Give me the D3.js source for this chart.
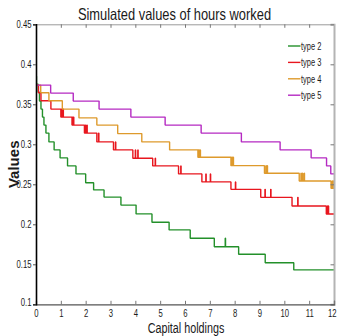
<!DOCTYPE html>
<html>
<head>
<meta charset="utf-8">
<script src="https://cdn.jsdelivr.net/npm/d3@7"></script>
<style>
  html, body { margin: 0; padding: 0; background: #fff; }
  svg { display: block; }
  text { font-family: "Liberation Sans", Arial, sans-serif; fill: #1a1a1a; }
</style>
</head>
<body>
<svg id="chart" width="337" height="336"></svg>
<script>
// Axis ticks
const xTicks = [0, 1, 2, 3, 4, 5, 6, 7, 8, 9, 10, 11, 12];
const yTicks = [0.1, 0.15, 0.2, 0.25, 0.3, 0.35, 0.4, 0.45];

// Series names and colours
const seriesNames = ["type 2", "type 3", "type 4", "type 5"];
const seriesColors = ["#23902a", "#e8161e", "#de9a2c", "#b52ac2"];

// Step series: levels (hours worked), break points (capital) where the level drops,
// and spike points where the simulated value briefly returns to the previous level.
const type2Levels = [0.385, 0.375, 0.365, 0.354, 0.344, 0.334, 0.324, 0.314, 0.303, 0.293, 0.283, 0.273, 0.263,
                     0.252, 0.243, 0.234, 0.224, 0.213, 0.2025, 0.193, 0.1825, 0.172, 0.1625, 0.152, 0.143];
const type2Breaks = [0.02, 0.09, 0.14, 0.2, 0.26, 0.32, 0.4, 0.52, 0.73, 0.97, 1.27, 1.61, 2.0,
                     2.32, 2.74, 3.42, 4.03, 4.67, 5.36, 6.21, 7.18, 8.16, 9.23, 10.38];
const type2Spikes = [7.62];

const type3Levels = [0.374, 0.3645, 0.3545, 0.344, 0.334, 0.324, 0.314, 0.303, 0.293, 0.2825, 0.273,
                     0.263, 0.253, 0.2437, 0.2337, 0.2229, 0.2129];
const type3Breaks = [0.1, 0.2, 0.6, 1.0, 1.45, 1.95, 2.45, 3.12, 3.9, 4.7, 5.74, 6.68, 7.85, 9.05, 10.31, 11.69];
const type3Spikes = [1.03, 1.06, 1.09, 1.48, 1.51, 1.99, 2.05, 2.52, 3.2, 4.0, 4.1, 4.8, 5.83,
                     6.84, 7.02, 8.03, 9.22, 9.45, 10.54, 11.74, 11.77];

const type4Levels = [0.374, 0.3645, 0.3545, 0.344, 0.333, 0.324, 0.3134, 0.303, 0.293, 0.2838, 0.2733,
                     0.2638, 0.2541, 0.245];
const type4Breaks = [0.19, 0.52, 1.06, 1.73, 2.45, 3.29, 4.26, 5.38, 6.52, 7.85, 9.2, 10.6, 11.88];
const type4Spikes = [6.55, 6.58, 6.61, 7.88, 7.91, 7.94, 9.26, 9.31, 10.67, 10.73, 10.8, 11.93, 11.97];

const type5Levels = [0.374, 0.364, 0.354, 0.344, 0.334, 0.324, 0.314, 0.303, 0.293, 0.283, 0.273, 0.263];
const type5Breaks = [0.59, 1.5, 2.54, 3.82, 5.2, 6.65, 8.27, 9.83, 11.08, 11.7, 11.87];
const type5Spikes = [];

const series = [
  { levels: type2Levels, breaks: type2Breaks, spikes: type2Spikes },
  { levels: type3Levels, breaks: type3Breaks, spikes: type3Spikes },
  { levels: type4Levels, breaks: type4Breaks, spikes: type4Spikes },
  { levels: type5Levels, breaks: type5Breaks, spikes: type5Spikes }
];

const svg = d3.select("#chart");
const padLeft = 36, padRight = 334, padTop = 24.3, padBottom = 304.3;

const x = d3.scaleLinear().domain([0, 12]).range([padLeft, padRight]);
const y = d3.scaleLinear().domain([0.1, 0.45]).range([padBottom, padTop]);

// Compress text horizontally to a narrow face
function squeeze(sel, k) {
  sel.each(function () {
    const w = this.getComputedTextLength();
    d3.select(this).attr("textLength", w * k).attr("lengthAdjust", "spacingAndGlyphs");
  });
}

// Build the step path points for one series
function stepPoints(s) {
  const pts = [[0, s.levels[0]]];
  const spikeW = 0.012;
  s.breaks.forEach((b, i) => {
    pts.push([b, s.levels[i]]);
    pts.push([b, s.levels[i + 1]]);
    const next = i + 1 < s.breaks.length ? s.breaks[i + 1] : 12;
    s.spikes.filter(v => v > b && v < next).forEach(v => {
      pts.push([v, s.levels[i + 1]]);
      pts.push([v, s.levels[i]]);
      pts.push([v + spikeW, s.levels[i]]);
      pts.push([v + spikeW, s.levels[i + 1]]);
    });
  });
  pts.push([12, s.levels[s.levels.length - 1]]);
  return pts;
}

const line = d3.line().x(d => x(d[0])).y(d => y(d[1]));

const plot = svg.append("g");
plot.append("defs").append("clipPath").attr("id", "clip")
  .append("rect").attr("x", padLeft).attr("y", padTop)
  .attr("width", padRight - padLeft).attr("height", padBottom - padTop);

const lines = plot.append("g").attr("clip-path", "url(#clip)");
series.forEach((s, i) => {
  lines.append("path")
    .attr("d", line(stepPoints(s)))
    .attr("fill", "none")
    .attr("stroke", seriesColors[i])
    .attr("stroke-width", 1.4)
    .attr("stroke-linejoin", "bevel");
});

// Axes
const gTop = svg.append("g").attr("transform", `translate(0,${padTop})`)
  .call(d3.axisTop(x).tickValues(xTicks).tickSize(-3.5).tickFormat(""));
gTop.select(".domain").attr("stroke", "#9a9a9a").attr("stroke-width", 1);
gTop.selectAll(".tick line").attr("stroke", "#777");

const gRight = svg.append("g").attr("transform", `translate(${padRight},0)`)
  .call(d3.axisRight(y).tickValues(yTicks).tickSize(-3.5).tickFormat(""));
gRight.select(".domain").attr("stroke", "#b4b4b4").attr("stroke-width", 2);
gRight.selectAll(".tick line").attr("stroke", "#777");

const gBottom = svg.append("g").attr("transform", `translate(0,${padBottom})`)
  .call(d3.axisBottom(x).tickValues(xTicks).tickSize(-3.5).tickPadding(5).tickFormat(d3.format("d")));
gBottom.select(".domain").attr("stroke", "#555").attr("stroke-width", 1.2);
gBottom.selectAll(".tick line").attr("stroke", "#777");
// narrow digits, compressed about each tick position
gBottom.selectAll(".tick text")
  .attr("font-size", 11).attr("font-family", null).attr("fill", "#222")
  .attr("transform", "scale(0.7,1)");
// keep the last label inside the frame
gBottom.selectAll(".tick text").filter(d => d === 12).attr("text-anchor", "end").attr("x", 3);

const gLeft = svg.append("g").attr("transform", `translate(${padLeft},0)`)
  .call(d3.axisLeft(y).tickValues(yTicks).tickSize(3).tickPadding(1.5).tickFormat(d => String(d)));
gLeft.select(".domain").attr("stroke", "#000").attr("stroke-width", 1.6);
gLeft.selectAll(".tick line").attr("stroke", "#555");
gLeft.selectAll(".tick text").attr("font-size", 11).attr("font-family", null).attr("fill", "#222");
// lowest label sits a little above its tick, clear of the first x label
gLeft.selectAll(".tick text").filter(d => d === 0.1).attr("y", -2);
squeeze(gLeft.selectAll(".tick text"), 0.7);

// Title and axis titles
const title = svg.append("text")
  .attr("x", 174.5).attr("y", 19.5)
  .attr("text-anchor", "middle")
  .attr("font-size", 16.5)
  .text("Simulated values of hours worked");
squeeze(title, 0.78);

const xTitle = svg.append("text")
  .attr("x", 186).attr("y", 332.5)
  .attr("text-anchor", "middle")
  .attr("font-size", 14)
  .text("Capital holdings");
squeeze(xTitle, 0.77);

svg.append("text")
  .attr("transform", `translate(18.5,${(padTop + padBottom) / 2}) rotate(-90)`)
  .attr("text-anchor", "middle")
  .attr("font-size", 15)
  .attr("font-weight", "bold")
  .text("Values");

// Legend
const legend = svg.append("g");
seriesNames.forEach((name, i) => {
  const ly = 46 + i * 16.4;
  legend.append("line")
    .attr("x1", 288).attr("x2", 300.5).attr("y1", ly).attr("y2", ly)
    .attr("stroke", seriesColors[i]).attr("stroke-width", 1.4);
  const t = legend.append("text")
    .attr("x", 301).attr("y", ly + 4)
    .attr("font-size", 11)
    .text(name);
  squeeze(t, 0.68);
});
</script>
</body>
</html>
